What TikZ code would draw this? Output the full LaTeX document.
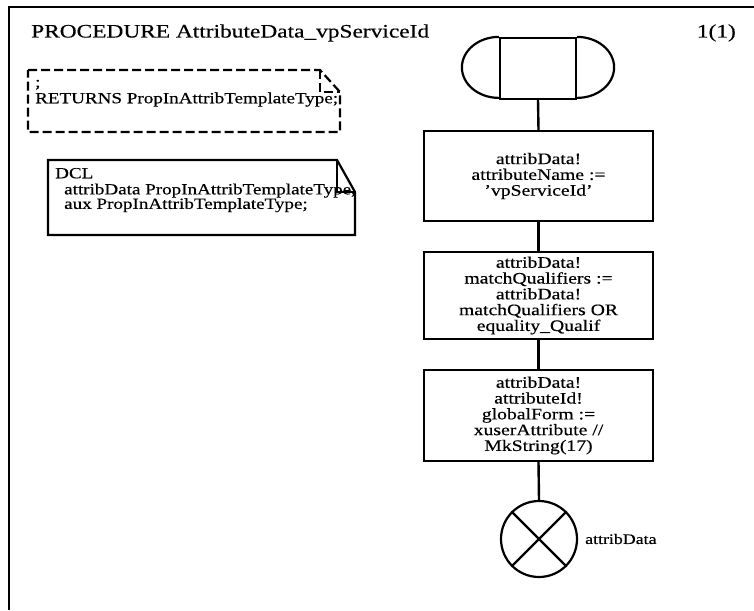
\documentclass[tikz,border=0pt]{standalone}
\usepackage{fontspec}
\setmainfont{Liberation Serif}[FakeStretch=1.23, FakeBold=0.4]
\begin{document}
\begin{tikzpicture}[x=1pt,y=1pt,
  frameline/.style={line width=2.6pt},
  sym/.style={draw, line width=2.2pt},
  taskbox/.style={sym, rectangle, minimum width=229pt, align=center, inner sep=2pt,
    font=\fontsize{16}{15.8}\selectfont},
  notetext/.style={font=\fontsize{15.5}{14.5}\selectfont, align=left, inner sep=0pt, anchor=north west},
  conn/.style={line width=2.4pt}]
\useasboundingbox (0,0) rectangle (754,-610);
% frame
\draw[frameline] (9,-610) -- (9,-7) -- (754,-7);
\node[anchor=base west, inner sep=0pt, font=\fontsize{19}{22}\selectfont] (title) at (31,-37.5) {PROCEDURE AttributeData\_vpServiceId};
\node[anchor=base east, inner sep=0pt, font=\fontsize{19}{22}\selectfont] (page) at (736,-37.5) {1(1)};
% returns note (dashed)
\draw[line width=2.2pt, dash pattern=on 9pt off 4pt] (28,-70) -- (320,-70) -- (340,-92) -- (340,-132) -- (28,-132) -- cycle;
\draw[line width=2.2pt, dash pattern=on 9pt off 4pt] (320,-70) -- (320,-92) -- (340,-92);
\node[notetext] (ret) at (35,-76.8) {\strut;\\RETURNS PropInAttribTemplateType;};
% DCL note
\draw[sym] (48,-160) -- (337,-160) -- (355,-192) -- (355,-235) -- (48,-235) -- cycle;
\draw[sym] (337,-160) -- (337,-192) -- (355,-192);
\node[notetext] (dcl) at (55,-167.8) {\strut DCL\\\hspace*{9pt}attribData PropInAttribTemplateType,\\\hspace*{9pt}aux PropInAttribTemplateType;};
% start symbol
\node[sym, rectangle, minimum width=76pt, minimum height=61pt, inner sep=0pt] (start) at (538,-68.5) {};
\draw[sym] (start.north west) arc[start angle=90, end angle=270, x radius=37pt, y radius=30.5pt];
\draw[sym] (start.north east) arc[start angle=90, end angle=-90, x radius=37pt, y radius=30.5pt];
% tasks
\node[taskbox, minimum height=90pt] (t1) at (538.5,-176) {attribData!\\attributeName :=\\'vpServiceId'};
\node[taskbox, minimum height=87pt] (t2) at (538.5,-295.5) {attribData!\\matchQualifiers :=\\attribData!\\matchQualifiers OR\\equality\_Qualif};
\node[taskbox, minimum height=91pt] (t3) at (538.5,-415.5) {attribData!\\attributeId!\\globalForm :=\\xuserAttribute //\\MkString(17)};
% return symbol
\node[sym, circle, minimum size=76pt, inner sep=0pt] (ret1) at (539,-539) {};
\draw[sym] (ret1.45) -- (ret1.225);
\draw[sym] (ret1.135) -- (ret1.315);
\node[anchor=west, inner sep=0pt, font=\fontsize{14.5}{16}\selectfont] (retlab) at (585,-539) {attribData};
% connectors
\draw[conn] (start.south) -- (t1.north);
\draw[conn] (t1.south) -- (t2.north);
\draw[conn] (t2.south) -- (t3.north);
\draw[conn] (t3.south) -- (ret1.north);
\end{tikzpicture}
\end{document}
